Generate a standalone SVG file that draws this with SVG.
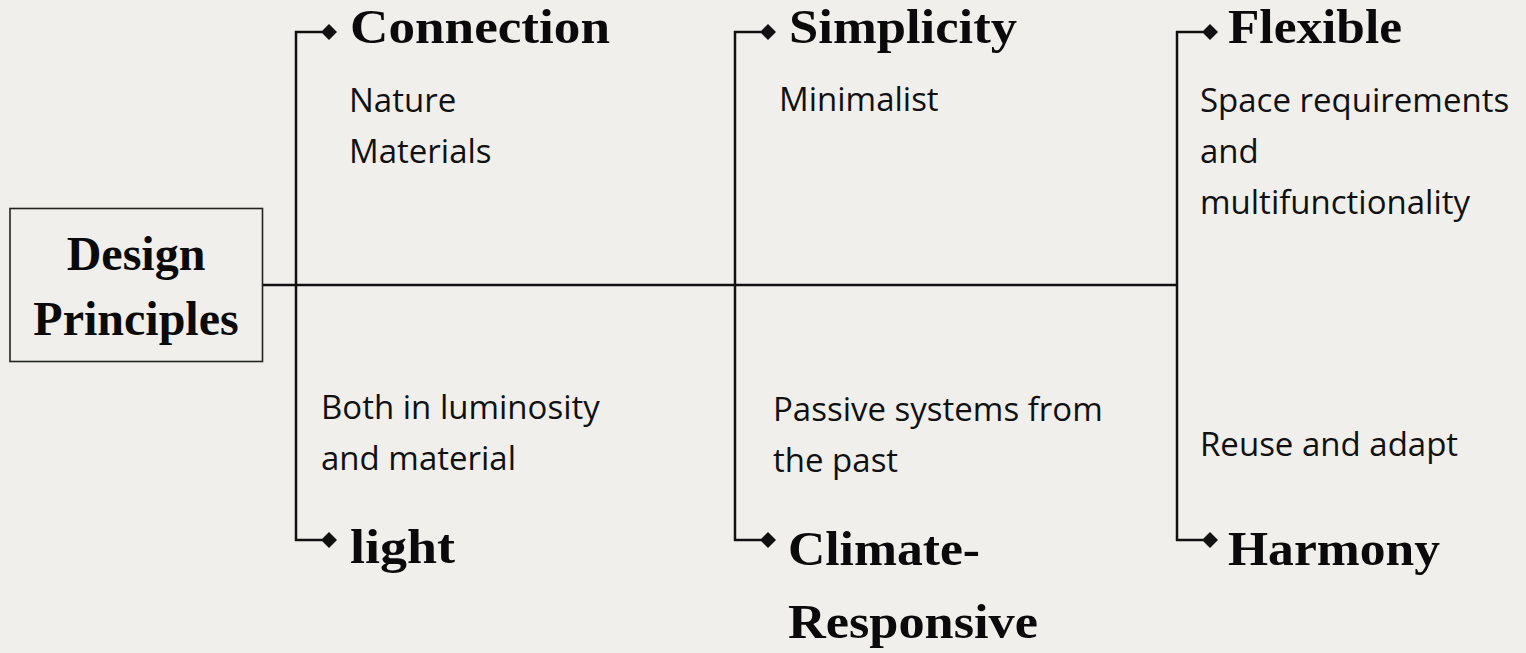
<svg xmlns="http://www.w3.org/2000/svg" width="1526" height="653" viewBox="0 0 1526 653">
<defs>
<style>
.bg{fill:#F0EFEC}
.ln{fill:none;stroke:#111;stroke-width:2.5}
.box{fill:#F0EFEC;stroke:#222;stroke-width:1.6}
.hd{font-family:"Liberation Serif","Times New Roman",serif;font-weight:bold;font-size:48px;fill:#0a0a0a}
.bx{font-family:"Liberation Serif","Times New Roman",serif;font-weight:bold;font-size:48px;fill:#0a0a0a}
.tx{font-family:"Open Sans","Liberation Sans",sans-serif;font-size:33px;fill:#111}
</style>
<marker id="dia" viewBox="0 0 16 18" refX="1" refY="9" markerWidth="16" markerHeight="18" markerUnits="userSpaceOnUse" orient="auto">
<path d="M0,9 L8,1 L16,9 L8,17 Z" fill="#111"/>
</marker>
</defs>
<rect class="bg" x="0" y="0" width="1526" height="653"/>
<g id="connectors">
<line class="ln" x1="263" y1="285" x2="1177" y2="285"/>
<line class="ln" x1="296" y1="31" x2="296" y2="541"/>
<line class="ln" x1="735" y1="31" x2="735" y2="541"/>
<line class="ln" x1="1177" y1="31" x2="1177" y2="541"/>
<path class="ln" d="M295,32 H322" marker-end="url(#dia)"/>
<path class="ln" d="M734,32 H761" marker-end="url(#dia)"/>
<path class="ln" d="M1176,32 H1203" marker-end="url(#dia)"/>
<path class="ln" d="M295,540 H322" marker-end="url(#dia)"/>
<path class="ln" d="M734,540 H761" marker-end="url(#dia)"/>
<path class="ln" d="M1176,540 H1203" marker-end="url(#dia)"/>
</g>
<g id="root">
<rect class="box" x="10" y="208.5" width="252.5" height="153"/>
<text class="bx" x="136" y="270" text-anchor="middle">Design</text>
<text class="bx" x="136" y="335" text-anchor="middle">Principles</text>
</g>
<g id="connection">
<text class="hd" x="350" y="43" textLength="260" lengthAdjust="spacingAndGlyphs">Connection</text>
<text class="tx" x="349" y="112">Nature</text>
<text class="tx" x="349" y="163">Materials</text>
</g>
<g id="simplicity">
<text class="hd" x="789" y="43" textLength="228" lengthAdjust="spacingAndGlyphs">Simplicity</text>
<text class="tx" x="779" y="111">Minimalist</text>
</g>
<g id="flexible">
<text class="hd" x="1228" y="43" textLength="174" lengthAdjust="spacingAndGlyphs">Flexible</text>
<text class="tx" x="1200" y="112">Space requirements</text>
<text class="tx" x="1200" y="163">and</text>
<text class="tx" x="1200" y="214">multifunctionality</text>
</g>
<g id="light">
<text class="tx" x="321" y="419">Both in luminosity</text>
<text class="tx" x="321" y="470">and material</text>
<text class="hd" x="350" y="563" textLength="105" lengthAdjust="spacingAndGlyphs">light</text>
</g>
<g id="climate">
<text class="tx" x="773" y="421">Passive systems from</text>
<text class="tx" x="773" y="472">the past</text>
<text class="hd" x="788" y="565" textLength="192" lengthAdjust="spacingAndGlyphs">Climate-</text>
<text class="hd" x="788" y="638" textLength="250" lengthAdjust="spacingAndGlyphs">Responsive</text>
</g>
<g id="harmony">
<text class="tx" x="1200" y="456">Reuse and adapt</text>
<text class="hd" x="1228" y="565" textLength="212" lengthAdjust="spacingAndGlyphs">Harmony</text>
</g>
</svg>
